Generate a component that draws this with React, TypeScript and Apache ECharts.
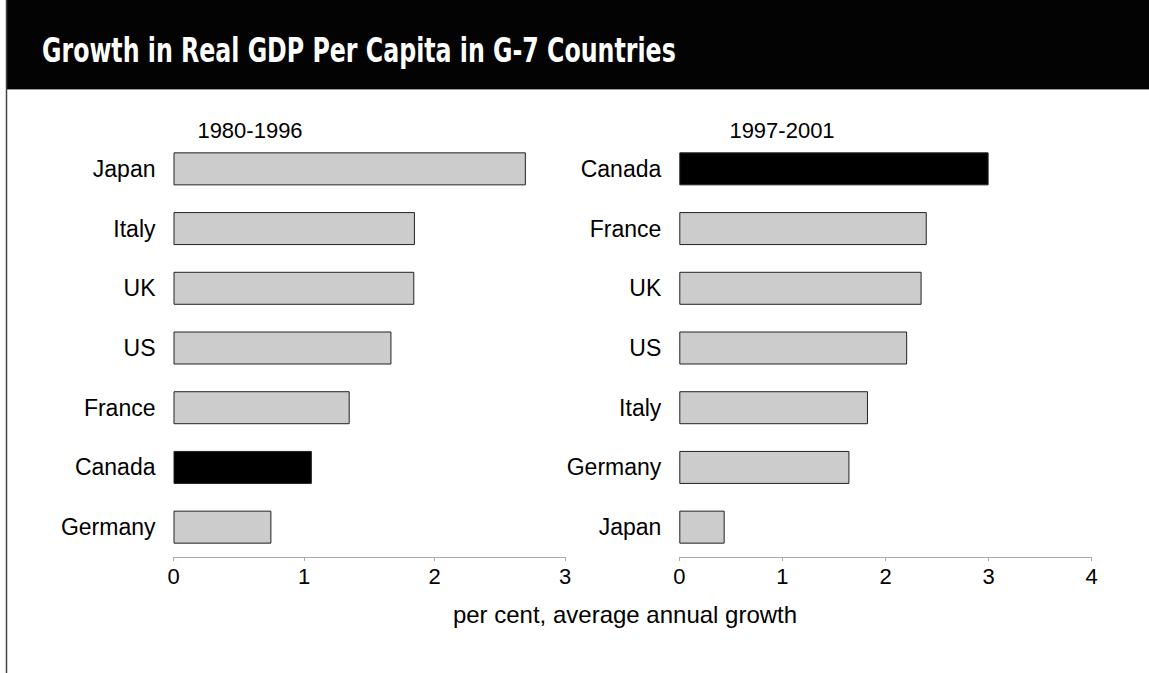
import React, { useEffect, useRef } from "react";
import * as echarts from "echarts";

const title = "Growth in Real GDP Per Capita in G-7 Countries";
const axisName = "per cent, average annual growth";

const period1 = "1980-1996";
const countries1 = ["Japan", "Italy", "UK", "US", "France", "Canada", "Germany"];
const values1 = [2.7, 1.85, 1.845, 1.67, 1.35, 1.06, 0.75];

const period2 = "1997-2001";
const countries2 = ["Canada", "France", "UK", "US", "Italy", "Germany", "Japan"];
const values2 = [3.0, 2.4, 2.35, 2.21, 1.83, 1.65, 0.44];

const highlight = "Canada";
const xTicks1 = [0, 1, 2, 3];
const xTicks2 = [0, 1, 2, 3, 4];

const FONT = "'Liberation Sans', Arial, Helvetica, sans-serif";

export default function App() {
  const ref = useRef<HTMLDivElement>(null);
  useEffect(() => {
    document.body.style.margin = "0";
    const chart = echarts.init(ref.current!, null, { renderer: "svg" });
    const barData = (cats: string[], vals: number[]) =>
      vals.map((v, i) => ({
        value: v,
        itemStyle: { color: cats[i] === highlight ? "#000000" : "#cccccc" },
      }));
    const yAxis = (idx: number, cats: string[]) => ({
      type: "category",
      gridIndex: idx,
      data: cats,
      inverse: true,
      axisLine: { show: false },
      axisTick: { show: false },
      axisLabel: { color: "#000", fontSize: 23, fontFamily: FONT, margin: 18 },
    });
    const xAxis = (idx: number, ticks: number[]) => ({
      type: "value",
      gridIndex: idx,
      min: ticks[0],
      max: ticks[ticks.length - 1],
      interval: 1,
      axisLine: { show: true, lineStyle: { color: "#aaaaaa", width: 1 } },
      axisTick: { show: true, length: 4, lineStyle: { color: "#aaaaaa" } },
      splitLine: { show: false },
      axisLabel: { color: "#000", fontSize: 22, fontFamily: FONT, margin: 8 },
    });
    chart.setOption({
      animation: false,
      backgroundColor: "#ffffff",
      grid: [
        { left: 173.5, top: 139, width: 391.5, height: 418 },
        { left: 679.3, top: 139, width: 412.4, height: 418 },
      ],
      xAxis: [xAxis(0, xTicks1), xAxis(1, xTicks2)],
      yAxis: [yAxis(0, countries1), yAxis(1, countries2)],
      series: [
        {
          type: "bar",
          xAxisIndex: 0,
          yAxisIndex: 0,
          barWidth: 33,
          data: barData(countries1, values1),
          itemStyle: { borderColor: "#222222", borderWidth: 1 },
        },
        {
          type: "bar",
          xAxisIndex: 1,
          yAxisIndex: 1,
          barWidth: 33,
          data: barData(countries2, values2),
          itemStyle: { borderColor: "#222222", borderWidth: 1 },
        },
      ],
      graphic: [
        { type: "rect", left: 6, top: 0, shape: { width: 1143, height: 89 }, style: { fill: "#030303" } },
        { type: "line", shape: { x1: 6, y1: 89.5, x2: 1149, y2: 89.5 }, style: { stroke: "#999999", lineWidth: 1 } },
        { type: "line", shape: { x1: 6.5, y1: 0, x2: 6.5, y2: 673 }, style: { stroke: "#444444", lineWidth: 1.5 } },
        {
          type: "text",
          x: 42,
          y: 50,
          scaleX: 0.775,
          style: {
            text: title,
            fill: "#ffffff",
            font: "bold 34px 'Liberation Sans Narrow', 'DejaVu Sans Condensed', sans-serif",
            textVerticalAlign: "middle",
          },
        },
        {
          type: "text",
          x: 250,
          y: 130,
          style: { text: period1, fill: "#000", font: `22px ${FONT}`, textAlign: "center", textVerticalAlign: "middle" },
        },
        {
          type: "text",
          x: 782,
          y: 130,
          style: { text: period2, fill: "#000", font: `22px ${FONT}`, textAlign: "center", textVerticalAlign: "middle" },
        },
        {
          type: "text",
          x: 625,
          y: 614,
          style: { text: axisName, fill: "#000", font: `24px ${FONT}`, textAlign: "center", textVerticalAlign: "middle" },
        },
      ],
    });
    return () => chart.dispose();
  }, []);
  return <div ref={ref} style={{ position: "absolute", left: 0, top: 0, width: 1149, height: 673 }} />;
}
